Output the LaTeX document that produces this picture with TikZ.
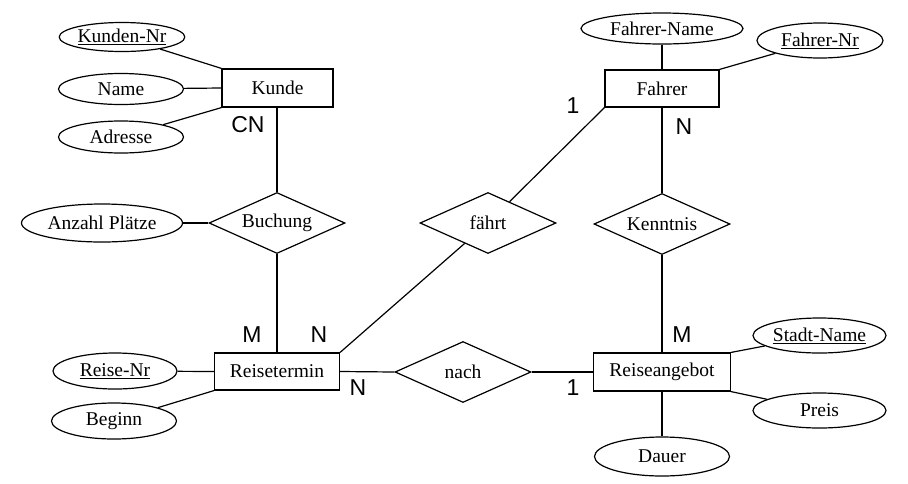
\documentclass[tikz,border=0pt]{standalone}
\usepackage{fontspec}
\setmainfont{Liberation Serif}
\newfontfamily\labfont{Liberation Sans}
\usetikzlibrary{shapes.geometric}
\begin{document}
\begin{tikzpicture}[x=1pt,y=-1pt, line width=1.2pt,
  txt/.style={font=\fontsize{19.5}{21}\selectfont},
  ent/.style={draw, rectangle, inner sep=0pt, txt},
  attr/.style={draw, ellipse, inner sep=0pt, txt},
  rel/.style={draw, diamond, aspect=2.2, inner sep=0pt, minimum width=136pt, minimum height=61pt, txt},
  card/.style={font=\labfont\fontsize{23}{25}\selectfont, inner sep=0pt}]
\useasboundingbox (0,0) rectangle (908,483);
% entities
\node[ent, minimum width=111pt, minimum height=38pt] (kunde) at (277.5,88) {Kunde};
\node[ent, minimum width=114pt, minimum height=37pt] (fahrer) at (662,88.5) {Fahrer};
\node[ent, minimum width=125pt, minimum height=37pt] (termin) at (277,371.5) {Reisetermin};
\node[ent, minimum width=137pt, minimum height=38pt] (angebot) at (662,372) {Reiseangebot};
% relationships
\node[rel] (buchung) at (277,223) {Buchung};
\node[rel] (faehrt) at (488,223) {fährt};
\node[rel] (kenntnis) at (662,224) {Kenntnis};
\node[rel] (nach) at (463,372) {nach};
% attributes
\node[attr, minimum width=124pt, minimum height=29pt] (kundennr) at (122,37) {\underline{Kunden-Nr}};
\node[attr, minimum width=125pt, minimum height=31pt] (name) at (121,89) {Name};
\node[attr, minimum width=125pt, minimum height=32pt] (adresse) at (121,137) {Adresse};
\node[attr, minimum width=161pt, minimum height=38pt] (anzahl) at (102,223) {Anzahl Plätze};
\node[attr, minimum width=124pt, minimum height=36pt] (reisenr) at (115,371) {\underline{Reise-Nr}};
\node[attr, minimum width=125pt, minimum height=36pt] (beginn) at (114,421) {Beginn};
\node[attr, minimum width=162pt, minimum height=31pt] (fahrername) at (662,28.5) {Fahrer-Name};
\node[attr, minimum width=126pt, minimum height=35pt] (fahrernr) at (820,40.5) {\underline{Fahrer-Nr}};
\node[attr, minimum width=133pt, minimum height=35pt] (stadt) at (819.5,335.5) {\underline{Stadt-Name}};
\node[attr, minimum width=133pt, minimum height=35pt] (preis) at (819.5,410.5) {Preis};
\node[attr, minimum width=135pt, minimum height=39pt] (dauer) at (662,456.5) {Dauer};
% connectors
\draw (kunde.north west) -- (kundennr);
\draw (kunde.west) -- (name);
\draw (kunde.south west) -- (adresse);
\draw (kunde.south -| buchung.north) -- (buchung.north);
\draw (anzahl) -- (buchung);
\draw (buchung.south) -- (termin.north);
\draw (termin.north east) -- (faehrt);
\draw (faehrt) -- (fahrer.south west);
\draw (termin.east) -- (nach.west);
\draw (nach.east) -- (angebot.west);
\draw (fahrer.south) -- (kenntnis.north);
\draw (kenntnis.south) -- (angebot.north);
\draw (fahrername) -- (fahrer.north);
\draw (fahrer.north east) -- (fahrernr);
\draw (reisenr) -- (termin.west);
\draw (termin.south west) -- (beginn);
\draw (angebot.north east) -- (stadt);
\draw (angebot.south east) -- (preis);
\draw (angebot.south) -- (dauer);
% cardinalities
\node[card] (c1) at (248,125) {CN};
\node[card] (c2) at (252,335) {M};
\node[card] (c3) at (319,335) {N};
\node[card] (c4) at (358,388) {N};
\node[card] (c5) at (573,388) {1};
\node[card] (c6) at (682,335) {M};
\node[card] (c7) at (573,106) {1};
\node[card] (c8) at (684,127) {N};
\end{tikzpicture}
\end{document}
